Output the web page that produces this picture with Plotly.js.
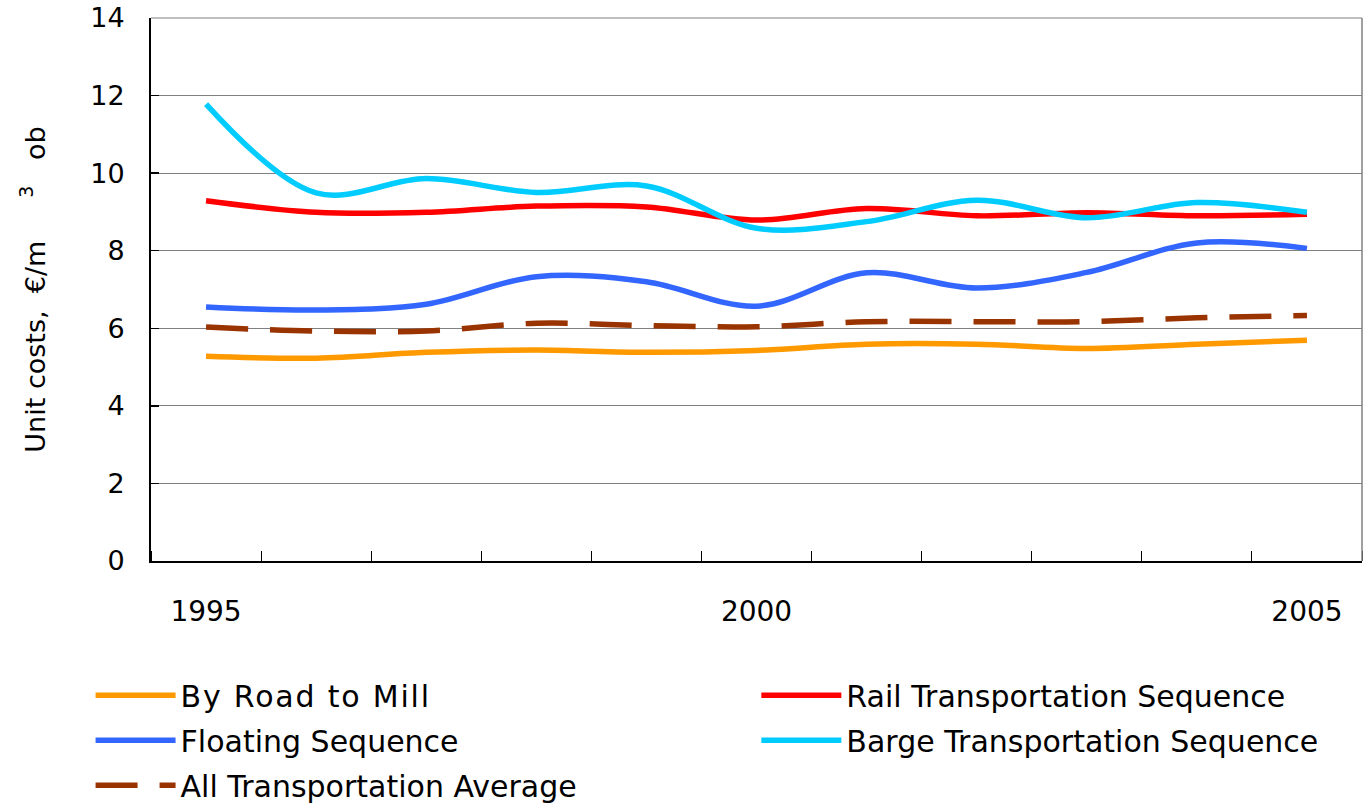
<!DOCTYPE html>
<html>
<head>
<meta charset="utf-8">
<script src="https://cdn.plot.ly/plotly-3.0.1.min.js"></script>
<style>
html,body{margin:0;padding:0;background:#fff;}
#chart{width:1366px;height:805px;}
.legendtext{letter-spacing:1.8px;}
</style>
</head>
<body>
<div id="chart"></div>
<script>
const years = [1995, 1996, 1997, 1998, 1999, 2000, 2001, 2002, 2003, 2004, 2005];
const roadToMill = [5.28, 5.23, 5.38, 5.44, 5.38, 5.43, 5.59, 5.59, 5.48, 5.59, 5.69];
const railSequence = [9.29, 8.99, 8.99, 9.15, 9.13, 8.79, 9.09, 8.90, 8.98, 8.90, 8.94];
const floatingSequence = [6.55, 6.47, 6.62, 7.33, 7.20, 6.57, 7.43, 7.04, 7.44, 8.20, 8.06];
const bargeSequence = [11.78, 9.49, 9.86, 9.50, 9.67, 8.58, 8.75, 9.30, 8.85, 9.24, 8.99];
const allAverage = [6.03, 5.93, 5.93, 6.13, 6.07, 6.04, 6.17, 6.17, 6.17, 6.27, 6.33];
const xTickLabels = ['1995', '2000', '2005'];
const xTickVals = [1995, 2000, 2005];

const FONT = 'DejaVu Sans, Verdana, sans-serif';

function tr(name, y, color, legend, dash) {
  return {
    x: years, y: y, name: name, type: 'scatter', mode: 'lines',
    line: {color: color, width: 5.5, shape: 'spline', smoothing: 1, dash: dash || 'solid'},
    legend: legend, hoverinfo: 'x+y+name'
  };
}

const data = [
  tr('By Road to Mill', roadToMill, '#FF9900', 'legend'),
  tr('Rail Transportation Sequence', railSequence, '#FF0000', 'legend2'),
  tr('Floating Sequence', floatingSequence, '#3366FF', 'legend3'),
  tr('Barge Transportation Sequence', bargeSequence, '#00CCFF', 'legend4'),
  tr('All Transportation Average', allAverage, '#993300', 'legend5', '42px,22px')
];

function leg(x, y) {
  return {
    orientation: 'h', xref: 'container', yref: 'container',
    x: x, y: y, xanchor: 'left', yanchor: 'middle',
    itemwidth: 80,
    font: {family: FONT, size: 30, color: '#000'},
    bgcolor: 'rgba(0,0,0,0)', borderwidth: 0
  };
}

const layout = {
  width: 1366, height: 805,
  margin: {l: 151, r: 4, t: 18, b: 244},
  paper_bgcolor: '#fff', plot_bgcolor: '#fff',
  font: {family: FONT, size: 27, color: '#000'},
  showlegend: true,
  legend: leg(0.0663, 0.1362),
  legend2: leg(0.5537, 0.1362),
  legend3: leg(0.0663, 0.0803),
  legend4: leg(0.5537, 0.0803),
  legend5: leg(0.0663, 0.0244),
  xaxis: {
    range: [1994.5, 2005.5], fixedrange: true,
    tickvals: xTickVals, ticktext: xTickLabels,
    ticks: '', showgrid: false, zeroline: false,
    showline: true, linecolor: '#000', linewidth: 2,
    ticklabelstandoff: 24,
    tickfont: {family: FONT, size: 28, color: '#000'},
    minor: {tick0: 1994.5, dtick: 1, ticks: 'inside', ticklen: 10, tickcolor: '#000', tickwidth: 1, showgrid: false}
  },
  yaxis: {
    range: [0, 14], dtick: 2, fixedrange: true,
    showgrid: true, gridcolor: '#808080', gridwidth: 1,
    zeroline: false, showline: true, linecolor: '#000', linewidth: 2,
    ticks: 'inside', ticklen: 8, tickcolor: '#000', tickwidth: 1.5,
    ticklabelstandoff: 19,
    tickfont: {family: FONT, size: 27, color: '#000'},
    title: {text: 'Unit costs,  €/m&nbsp;&nbsp;&nbsp;&nbsp;&nbsp;<sup>3</sup>&nbsp;&nbsp;&nbsp;ob', font: {family: FONT, size: 27, color: '#000'}, standoff: 37}
  },
  shapes: [
    {type: 'line', xref: 'paper', yref: 'paper', x0: 0, x1: 1, y0: 1, y1: 1, line: {color: '#808080', width: 1}},
    {type: 'line', xref: 'paper', yref: 'paper', x0: 1, x1: 1, y0: 0, y1: 1, line: {color: '#808080', width: 1.5}}
  ]
};

Plotly.newPlot('chart', data, layout, {displayModeBar: false, staticPlot: true});
</script>
</body>
</html>
